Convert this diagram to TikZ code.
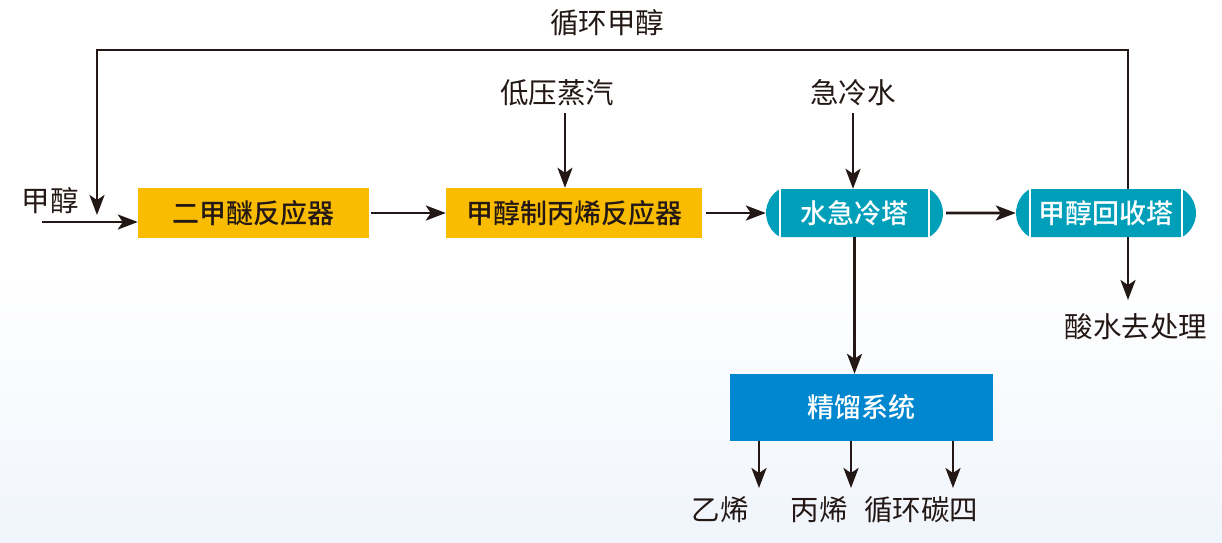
\documentclass[tikz,border=0pt]{standalone}
\usepackage{fontspec}
\setmainfont{Noto Sans CJK SC}
\newfontfamily\medfont{Noto Sans CJK SC Medium}
\usepackage{xcolor}
\usepackage{tikz}
\usetikzlibrary{calc,arrows.meta,shapes.misc}
\definecolor{ink}{HTML}{231815}
\definecolor{reactyel}{HTML}{F9BC00}
\definecolor{towercol}{HTML}{009FB9}
\definecolor{sysblue}{HTML}{0087CF}
\definecolor{bgblue}{HTML}{F0F5FC}
\newcommand\boxfont{\medfont\fontsize{27}{30}\selectfont}
\newcommand\labfont{\fontsize{28.5}{32}\selectfont}
\tikzset{
  reactor/.style={fill=reactyel, text=ink, font=\boxfont, inner sep=0pt,
    minimum width=231pt, minimum height=50pt},
  tower/.style={rounded rectangle, rounded rectangle arc length=120,
    fill=towercol, text=white, font=\boxfont, inner sep=0pt, minimum height=48pt},
  sysbox/.style={fill=sysblue, text=white, font=\boxfont, inner sep=0pt,
    minimum width=263pt, minimum height=67pt},
  lab/.style={text=ink, font=\labfont, inner sep=0pt},
  flow/.style={draw=ink, line width=2.7pt, -{Stealth[length=20pt,width=15pt,inset=5pt]}},
  capline/.style={draw=white, line width=1.6pt},
}

\begin{document}
\begin{tikzpicture}[x=1pt,y=-1pt]
\shade[top color=white, bottom color=bgblue, middle color=white] (0,0) rectangle (1222,542);
% units
\node[reactor] (dme) at (253.5,213) {二甲醚反应器};
\node[reactor, minimum width=256pt] (mtp) at (574,213) {甲醇制丙烯反应器};
\node[tower, minimum width=177pt] (quench) at (854.5,213) {水急冷塔};
\node[tower, minimum width=180pt] (recov) at (1106,213) {甲醇回收塔};
\node[sysbox] (dist) at (861.5,407.5) {精馏系统};
\foreach \t in {quench,recov} {
  \draw[capline] ($(\t.west)+(14,-24)$) -- ($(\t.west)+(14,24)$);
  \draw[capline] ($(\t.east)+(-14,-24)$) -- ($(\t.east)+(-14,24)$);
}
% labels
\node[lab] (meoh) at (50,201) {甲醇};
\node[lab] (recyc) at (607,23) {循环甲醇};
\node[lab] (steam) at (557,93) {低压蒸汽};
\node[lab] (qwater) at (853,93) {急冷水};
\node[lab] (acid) at (1136,327) {酸水去处理};
\node[lab] (eth) at (720,510) {乙烯};
\node[lab] (prop) at (819,510) {丙烯};
\node[lab] (cfour) at (921,510) {循环碳四};
% streams
\coordinate (feed) at (42,222);
\coordinate (steamin) at (565,113);
\coordinate (rtop) at (1128,50);
\coordinate (rend) at (97,215);
\coordinate (acidend) at (1128,300);
\draw[flow] (feed) -- (feed -| dme.west);
\draw[flow, shorten <=2pt] (dme) -- (mtp);
\draw[flow, shorten <=4pt] (mtp) -- (quench);
\draw[flow, shorten <=3pt] (quench) -- (recov);
\draw[flow] (steamin) -- (steamin |- mtp.north);
\draw[flow] (qwater.south |- steamin) -- (qwater.south |- quench.north);
\draw[flow] (quench.south) -- (quench.south |- dist.north);
\draw[flow] (rtop |- recov.north) -- (rtop) -| (rend);
\draw[flow] (rtop |- recov.south) -- (acidend);
\foreach \x in {759,851,953}
  \draw[flow] (\x,0 |- dist.south) -- (\x,488);
\end{tikzpicture}
\end{document}
